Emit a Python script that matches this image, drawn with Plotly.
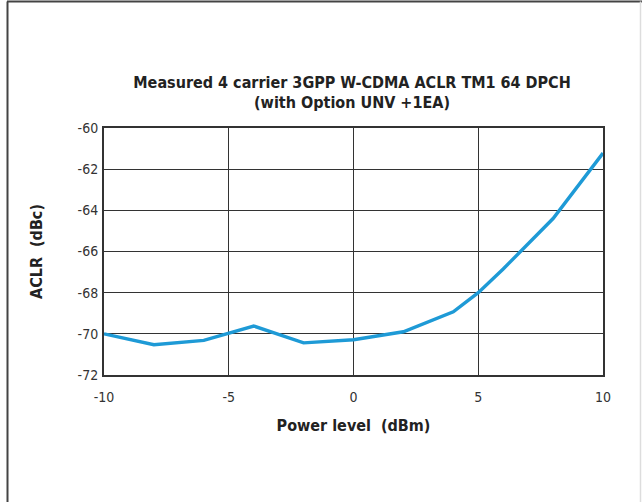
import plotly.graph_objects as go

power_dbm = [-10, -8, -6, -4, -2, 0, 2, 4, 5, 6, 8, 10]
aclr_dbc = [-70.0, -70.53, -70.32, -69.62, -70.44, -70.29, -69.9, -68.93, -68.0, -66.85, -64.4, -61.22]

x_ticks = [-10, -5, 0, 5, 10]
y_ticks = [-72, -70, -68, -66, -64, -62, -60]

title_text = "Measured 4 carrier 3GPP W-CDMA ACLR TM1 64 DPCH<br>(with Option UNV +1EA)"
x_title = "Power level  (dBm)"
y_title = "ACLR  (dBc)"

W, H = 642, 502
L, R, T, B = 104, 39, 128, 127
pw, ph = W - L - R, H - T - B

def px(xp):
    return (xp - L) / pw

def py(yp):
    return (H - B - yp) / ph

FONT = "DejaVu Sans Condensed, Liberation Sans Narrow, sans-serif"

fig = go.Figure()
fig.add_trace(go.Scatter(
    x=power_dbm, y=aclr_dbc, mode="lines",
    line=dict(color="#1E9AD6", width=3.4),
    showlegend=False, hoverinfo="skip",
))

fig.update_layout(
    width=W, height=H,
    margin=dict(l=L, r=R, t=T, b=B),
    paper_bgcolor="white", plot_bgcolor="white",
    font=dict(family=FONT, color="#222222"),
    title=dict(
        text="<b>" + title_text.replace("<br>", "</b><br><b>") + "</b>",
        x=px(352), xanchor="center", xref="paper",
        y=1 - 87.5 / H, yanchor="middle",
        font=dict(family=FONT, size=16, color="#222222"),
    ),
    xaxis=dict(
        range=[-10, 10], tickvals=x_ticks, ticktext=[str(v) for v in x_ticks],
        showgrid=True, gridcolor="#333333", gridwidth=1,
        zeroline=False, showline=True, linecolor="#333333", linewidth=2, mirror=True,
        ticks="", ticklabelstandoff=8, tickfont=dict(family=FONT, size=14, color="#333333"),
        title=dict(text="<b>" + x_title + "</b>", font=dict(family=FONT, size=16, color="#222222"), standoff=16),
        fixedrange=True,
    ),
    yaxis=dict(
        range=[-72, -60], tickvals=y_ticks, ticktext=[str(v) for v in y_ticks],
        showgrid=True, gridcolor="#333333", gridwidth=1,
        zeroline=False, showline=True, linecolor="#333333", linewidth=2, mirror=True,
        ticks="", ticklabelstandoff=1, tickfont=dict(family=FONT, size=14, color="#333333"),
        title=dict(text="<b>" + y_title + "</b>", font=dict(family=FONT, size=16, color="#222222"), standoff=31),
        fixedrange=True,
    ),
    shapes=[
        dict(type="line", xref="paper", yref="paper", x0=px(7.5), x1=px(7.5), y0=py(1.5), y1=py(H + 5),
             line=dict(color="#444444", width=2)),
        dict(type="line", xref="paper", yref="paper", x0=px(7), x1=px(W + 5), y0=py(1.5), y1=py(1.5),
             line=dict(color="#444444", width=2)),
        dict(type="line", xref="paper", yref="paper", x0=px(640.5), x1=px(640.5), y0=py(1.5), y1=py(H + 5),
             line=dict(color="#DDDDDD", width=1.5)),
    ],
)

fig.write_html(
    "out.html",
    config={"displayModeBar": False, "staticPlot": True},
    post_script="document.body.style.margin='0';document.body.style.overflow='hidden';",
)
